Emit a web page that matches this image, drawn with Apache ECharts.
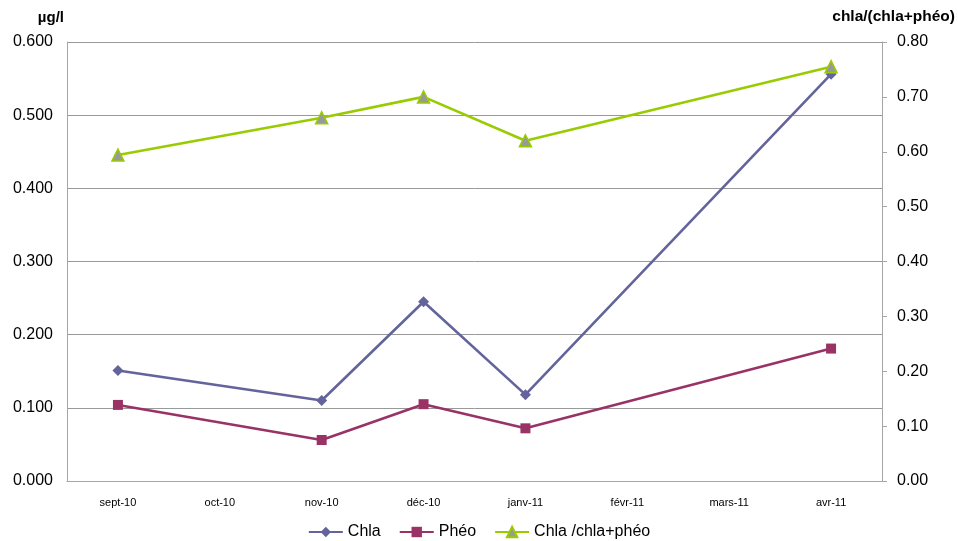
<!DOCTYPE html>
<html>
<head>
<meta charset="utf-8">
<script src="https://cdn.jsdelivr.net/npm/echarts@6/dist/echarts.min.js"></script>
<style>
  html, body { margin: 0; padding: 0; background: #fff; }
  #chart { width: 958px; height: 541px; }
</style>
</head>
<body>
<div id="chart"></div>
<script>
// Monthly sampling: concentrations (µg/l) and chlorophyll ratio
const months = ['sept-10', 'oct-10', 'nov-10', 'déc-10', 'janv-11', 'févr-11', 'mars-11', 'avr-11'];
const chla = [0.151, null, 0.110, 0.245, 0.118, null, null, 0.556];
const pheo = [0.104, null, 0.056, 0.105, 0.072, null, null, 0.181];
const ratio = [0.594, null, 0.662, 0.700, 0.620, null, null, 0.755];

const leftTicks = { min: 0, max: 0.6, interval: 0.1 };
const rightTicks = { min: 0, max: 0.8, interval: 0.1 };

const font = 'Liberation Sans, Arial, sans-serif';
const chart = echarts.init(document.getElementById('chart'), null, { renderer: 'canvas' });

chart.setOption({
  animation: false,
  textStyle: { fontFamily: font },
  grid: { left: 67, right: 76, top: 42, bottom: 60, containLabel: false },
  legend: {
    top: 519,
    left: 'center',
    itemWidth: 34,
    itemHeight: 13,
    itemGap: 18,
    textStyle: { fontSize: 16, color: '#000', fontFamily: font },
    data: ['Chla', 'Phéo', 'Chla /chla+phéo']
  },
  xAxis: {
    type: 'category',
    data: months,
    boundaryGap: true,
    axisLine: { lineStyle: { color: '#a6a6a6', width: 1 } },
    axisTick: { show: false },
    axisLabel: { fontSize: 11, color: '#000', margin: 16 }
  },
  yAxis: [
    {
      type: 'value',
      name: 'µg/l',
      nameLocation: 'end',
      nameGap: 17,
      nameTextStyle: { fontSize: 15, fontWeight: 'bold', color: '#000', align: 'right', padding: [0, 3, 0, 0] },
      min: leftTicks.min, max: leftTicks.max, interval: leftTicks.interval,
      axisLine: { show: true, lineStyle: { color: '#a6a6a6' } },
      axisTick: { show: false },
      axisLabel: { fontSize: 16, color: '#000', margin: 14, formatter: v => v.toFixed(3) },
      splitLine: { show: true, lineStyle: { color: '#999999', width: 1 } }
    },
    {
      type: 'value',
      name: 'chla/(chla+phéo)',
      nameLocation: 'end',
      nameGap: 17,
      nameTextStyle: { fontSize: 15.5, fontWeight: 'bold', color: '#000', align: 'right', padding: [0, -73, 0, 0] },
      min: rightTicks.min, max: rightTicks.max, interval: rightTicks.interval,
      position: 'right',
      axisLine: { show: true, lineStyle: { color: '#a6a6a6' } },
      axisTick: { show: true, length: 5, lineStyle: { color: '#a6a6a6' } },
      axisLabel: { fontSize: 16, color: '#000', margin: 15, formatter: v => v.toFixed(2) },
      splitLine: { show: false }
    }
  ],
  series: [
    {
      name: 'Chla', type: 'line', data: chla, yAxisIndex: 0, connectNulls: true,
      symbol: 'diamond', symbolSize: 11,
      lineStyle: { color: '#64649c', width: 2.6 },
      itemStyle: { color: '#64649c' }
    },
    {
      name: 'Phéo', type: 'line', data: pheo, yAxisIndex: 0, connectNulls: true,
      symbol: 'rect', symbolSize: 10,
      lineStyle: { color: '#993366', width: 2.6 },
      itemStyle: { color: '#993366' }
    },
    {
      name: 'Chla /chla+phéo', type: 'line', data: ratio, yAxisIndex: 1, connectNulls: true,
      symbol: 'triangle', symbolSize: 12,
      lineStyle: { color: '#99cc00', width: 2.6 },
      itemStyle: { color: '#999999', borderColor: '#99cc00', borderWidth: 1.5 }
    }
  ]
});
</script>
</body>
</html>
